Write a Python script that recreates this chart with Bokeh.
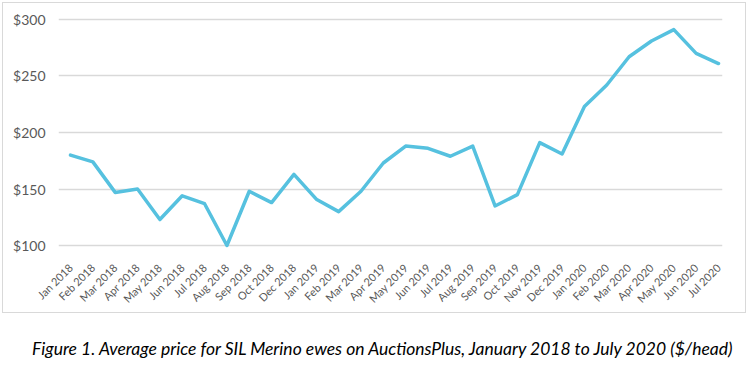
import math
from bokeh.plotting import figure
from bokeh.models import Range1d, FixedTicker, Div, NumeralTickFormatter
from bokeh.layouts import column
from bokeh.embed import file_html
from bokeh.resources import INLINE

months = ["Jan 2018", "Feb 2018", "Mar 2018", "Apr 2018", "May 2018", "Jun 2018",
          "Jul 2018", "Aug 2018", "Sep 2018", "Oct 2018", "Dec 2018", "Jan 2019",
          "Feb 2019", "Mar 2019", "Apr 2019", "May 2019", "Jun 2019", "Jul 2019",
          "Aug 2019", "Sep 2019", "Oct 2019", "Nov 2019", "Dec 2019", "Jan 2020",
          "Feb 2020", "Mar 2020", "Apr 2020", "May 2020", "Jun 2020", "Jul 2020"]
prices = [180, 174, 147, 150, 123, 144, 137, 100, 148, 138, 163, 141,
          130, 148, 173, 188, 186, 179, 188, 135, 145, 191, 181, 223,
          242, 267, 281, 291, 270, 261]
y_ticks = [100, 150, 200, 250, 300]
caption = "Figure 1. Average price for SIL Merino ewes on AuctionsPlus, January 2018 to July 2020 ($/head)"

x = list(range(len(months)))

p = figure(width=742, height=309, output_backend="svg", toolbar_location=None,
           x_range=Range1d(-0.537, len(months) - 1 + 0.179),
           y_range=Range1d(95.6, 304.4),
           min_border_left=55, min_border_right=23, min_border_top=11, min_border_bottom=62)

p.line(x, prices, line_color="#56C1DF", line_width=3.5, line_join="round", line_cap="round")

p.outline_line_color = None
p.xgrid.visible = False
p.ygrid.ticker = FixedTicker(ticks=y_ticks)
p.ygrid.grid_line_color = "#D9D9D9"
p.ygrid.grid_line_width = 1.5

p.yaxis.ticker = FixedTicker(ticks=y_ticks)
p.yaxis.formatter = NumeralTickFormatter(format="$0")
p.yaxis.axis_line_color = None
p.yaxis.major_tick_line_color = None
p.yaxis.minor_tick_line_color = None
p.yaxis.major_label_text_font = "Lato"
p.yaxis.major_label_text_font_size = "14px"
p.yaxis.major_label_text_color = "#595959"
p.yaxis.major_label_standoff = 7

p.xaxis.ticker = FixedTicker(ticks=x)
p.xaxis.major_label_overrides = {i: m for i, m in enumerate(months)}
p.xaxis.major_label_orientation = math.pi / 4
p.xaxis.axis_line_color = None
p.xaxis.major_tick_line_color = None
p.xaxis.minor_tick_line_color = None
p.xaxis.major_label_text_font = "Lato"
p.xaxis.major_label_text_font_size = "11px"
p.xaxis.major_label_text_color = "#595959"
p.xaxis.major_label_standoff = 9

box = column(p, styles={"border": "1px solid #D9D9D9", "margin-left": "2px", "margin-top": "2px"})
cap = Div(text=caption, width=740,
          styles={"font-family": "Lato", "font-style": "italic", "font-size": "17.5px",
                  "text-align": "left", "color": "#000000", "margin-top": "23px",
                  "padding-left": "27px", "white-space": "nowrap"})
layout = column(box, cap)

open("out.html", "w").write(file_html(layout, INLINE))
